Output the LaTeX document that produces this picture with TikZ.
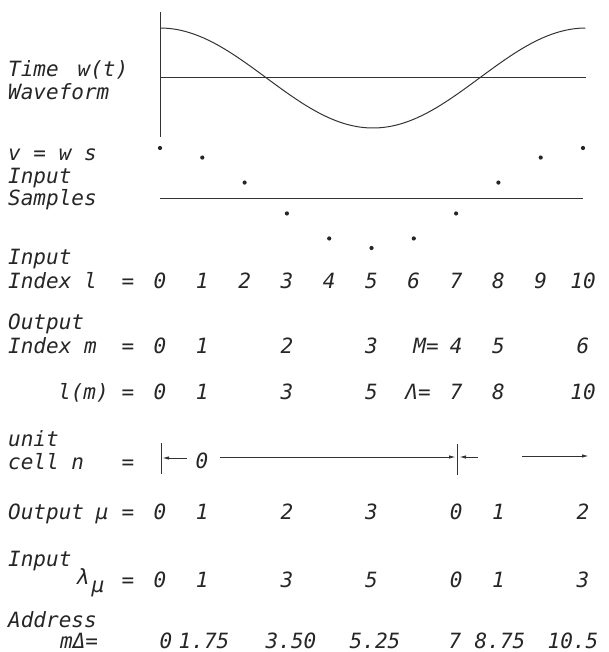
\documentclass[tikz,border=0pt]{standalone}
\usepackage{fontspec}
\newfontfamily\plotfont{DejaVu Sans Mono}
\usetikzlibrary{arrows.meta}
\begin{document}
\begin{tikzpicture}[x=1pt,y=-1pt,
  txt/.style={inner sep=0pt, anchor=base, text=black!85, font=\plotfont\itshape\fontsize{21}{25}\selectfont},
  lbl/.style={txt, anchor=base west},
  ln/.style={line width=1pt, black!80},
  dotmark/.style={circle, fill=black!85, inner sep=0pt, minimum size=4.2pt},
  arr/.style={ln, -{Latex[length=7pt,width=3.4pt]}}]
\useasboundingbox (0,0) rectangle (608,652);
% ---------- waveform ----------
\coordinate (vtop) at (160,12);
\coordinate (vbot) at (160,137);
\coordinate (hl) at (160,78);
\coordinate (hr) at (586,78);
\draw[ln] (vtop) -- (vbot);
\draw[ln] (hl) -- (hr);
\draw[ln] plot[domain=0:1, samples=120, smooth] ({160+426*\x},{78-50*cos(360*\x)});
\node[lbl] (time) at (8,77) {Time\hspace{0.9em}w(t)};
\node[lbl] (wave) at (8,100) {Waveform};
% ---------- samples ----------
\node[lbl] (vws) at (8,161) {v = w s};
\node[lbl] (inp1) at (8,184) {Input};
\node[lbl] (samp) at (8,206) {Samples};
\coordinate (sl) at (160,199);
\coordinate (sr) at (583,199);
\draw[ln] (sl) -- (sr);
\foreach \l in {0,...,10}
  \node[dotmark] (s\l) at ({160+42.3*\l},{198-50*cos(36*\l)}) {};
% ---------- input index ----------
\node[lbl] (inp2) at (8,264) {Input};
\node[lbl] (idxl) at (8,288) {Index l};
\node[txt] (eq1) at (128,288) {=};
\foreach \l in {0,...,10}
  \node[txt] (il\l) at ({160+42.3*\l},288) {\l};
% ---------- output index ----------
\node[lbl] (out1) at (8,329) {Output};
\node[lbl] (idxm) at (8,353) {Index m};
\node[txt] (eq2) at (128,353) {=};
\foreach \v/\k in {0/0,1/1,2/3,3/5,4/7,5/8,6/10}
  \node[txt] (om\v) at ({160+42.3*\k},353) {\v};
\node[txt] (Meq) at (426,353) {M=};
% ---------- l(m) ----------
\node[lbl] (lm) at (58,399) {l(m)};
\node[txt] (eq3) at (128,399) {=};
\foreach \v/\k in {0/0,1/1,3/3,5/5,7/7,8/8,10/10}
  \node[txt] (lm\v) at ({160+42.3*\k},399) {\v};
\node[txt] (Leq) at (418,399) {Λ=};
% ---------- unit cell ----------
\node[lbl] (unit) at (8,446) {unit};
\node[lbl] (cell) at (8,469) {cell n};
\node[txt] (eq4) at (128,469) {=};
\coordinate (b0t) at (161,443);
\coordinate (b0b) at (161,474);
\draw[ln] (b0t) -- (b0b);
\coordinate (a0s) at (187,458);
\coordinate (a0e) at (162,458);
\draw[arr] (a0s) -- (a0e);
\node[txt] (u0) at (202,468) {0};
\coordinate (l0s) at (220,457);
\coordinate (l0e) at (456,457);
\draw[arr] (l0s) -- (l0e);
\coordinate (b1t) at (457,444);
\coordinate (b1b) at (457,475);
\draw[ln] (b1t) -- (b1b);
\coordinate (a1s) at (478,457);
\coordinate (a1e) at (459,457);
\draw[arr] (a1s) -- (a1e);
\coordinate (r1s) at (522,456);
\coordinate (r1e) at (589,456);
\draw[arr] (r1s) -- (r1e);
% ---------- output mu ----------
\node[lbl] (outmu) at (8,519) {Output};
\node[txt] (mu1) at (102,519) {μ};
\node[txt] (eq5) at (128,519) {=};
\foreach \v/\k [count=\i] in {0/0,1/1,2/3,3/5,0/7,1/8,2/10}
  \node[txt] (mu\i) at ({160+42.3*\k},519) {\v};
% ---------- input lambda ----------
\node[lbl] (inp3) at (8,566) {Input};
\node[txt] (lam) at (82,584) {λ};
\node[txt] (lamsub) at (98,592) {μ};
\node[txt] (eq6) at (128,587) {=};
\foreach \v/\k [count=\i] in {0/0,1/1,3/3,5/5,0/7,1/8,3/10}
  \node[txt] (la\i) at ({160+42.3*\k},587) {\v};
% ---------- address ----------
\node[lbl] (addr) at (8,627) {Address};
\node[lbl] (mdel) at (60,648) {mΔ=};
\node[txt] (ad1) at (166,648) {0};
\node[txt] (ad2) at (204,648) {1.75};
\node[txt] (ad3) at (291,648) {3.50};
\node[txt] (ad4) at (375,648) {5.25};
\node[txt] (ad5) at (455,648) {7};
\node[txt] (ad6) at (500,648) {8.75};
\node[txt] (ad7) at (573,648) {10.5};
\end{tikzpicture}
\end{document}
